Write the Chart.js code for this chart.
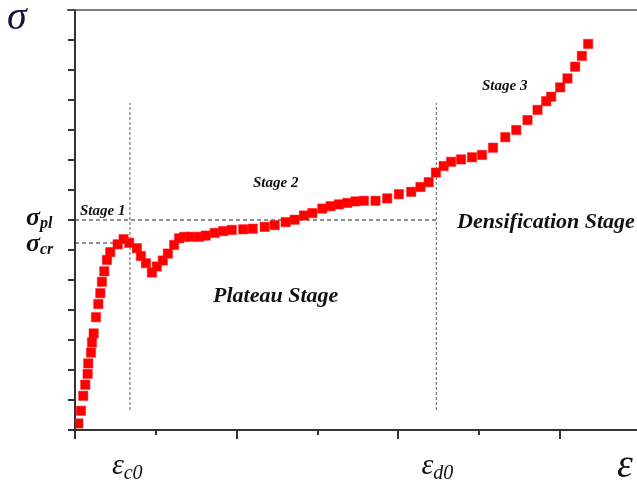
<!DOCTYPE html>
<html>
<head>
<meta charset="utf-8">
<script src="https://cdn.jsdelivr.net/npm/chart.js@4.4.0/dist/chart.umd.min.js"></script>
<style>
  body { margin: 0; background: #fff; }
  #wrap { width: 637px; height: 484px; }
</style>
</head>
<body>
<div id="wrap"><canvas id="stressChart" width="637" height="484"></canvas></div>
<script>
// strain / stress (arbitrary units)
const strain = [0.041, 0.074, 0.102, 0.127, 0.156, 0.164, 0.198, 0.210, 0.231, 0.259,
  0.288, 0.313, 0.333, 0.362, 0.395, 0.436, 0.527, 0.601, 0.670, 0.765,
  0.815, 0.877, 0.951, 1.012, 1.086, 1.148, 1.226, 1.288, 1.350, 1.432,
  1.535, 1.617, 1.728, 1.833, 1.938, 2.080, 2.198, 2.346, 2.469, 2.605,
  2.716, 2.831, 2.935, 3.058, 3.160, 3.263, 3.367, 3.469, 3.572, 3.716,
  3.861, 4.005, 4.158, 4.272, 4.374, 4.463, 4.559, 4.651, 4.774, 4.910,
  5.033, 5.169, 5.321, 5.457, 5.596, 5.720, 5.827, 5.889, 6.000, 6.090,
  6.185, 6.268, 6.346];
const stress = [0.22, 0.64, 1.14, 1.51, 1.87, 2.22, 2.58, 2.92, 3.22, 3.76,
  4.20, 4.56, 4.94, 5.29, 5.67, 5.93, 6.19, 6.36, 6.24, 6.06,
  5.80, 5.56, 5.25, 5.45, 5.65, 5.88, 6.17, 6.39, 6.44, 6.44,
  6.44, 6.48, 6.57, 6.63, 6.67, 6.69, 6.71, 6.77, 6.83, 6.93,
  7.01, 7.15, 7.23, 7.38, 7.46, 7.52, 7.57, 7.62, 7.64, 7.64,
  7.72, 7.86, 7.94, 8.10, 8.26, 8.58, 8.80, 8.94, 9.02, 9.09,
  9.17, 9.41, 9.76, 10.00, 10.33, 10.67, 10.96, 11.11, 11.42, 11.72,
  12.11, 12.47, 12.87];

// characteristic points
const epsC0 = 0.679, epsD0 = 4.469;
const sigPl = 7.0, sigCr = 6.233;
const guideTop = 10.9, guideBottom = 0.67;

const xMax = 6.95, yMax = 14;

const points = strain.map((x, i) => ({ x: x, y: stress[i] }));

function seg(x1, y1, x2, y2) { return [{ x: x1, y: y1 }, { x: x2, y: y2 }]; }

const labelsPlugin = {
  id: 'labels',
  afterDraw(chart) {
    const ctx = chart.ctx;
    const xs = chart.scales.x, ys = chart.scales.y;
    const a = chart.chartArea;
    ctx.save();
    ctx.strokeStyle = '#333';
    ctx.lineWidth = 2;
    // y ticks
    for (let v = 0; v <= yMax; v++) {
      const py = Math.round(ys.getPixelForValue(v));
      ctx.beginPath(); ctx.moveTo(a.left - 7, py); ctx.lineTo(a.left, py); ctx.stroke();
    }
    // x ticks, major every 2
    for (let v = 0; v <= Math.floor(xMax); v++) {
      const px = Math.round(xs.getPixelForValue(v));
      const len = v % 2 === 0 ? 9 : 5;
      ctx.beginPath(); ctx.moveTo(px, a.bottom); ctx.lineTo(px, a.bottom + len); ctx.stroke();
    }
    // top line
    ctx.strokeStyle = '#555';
    ctx.lineWidth = 1.5;
    ctx.beginPath(); ctx.moveTo(a.left - 8, a.top); ctx.lineTo(a.right, a.top); ctx.stroke();

    ctx.fillStyle = '#111';
    ctx.textBaseline = 'alphabetic';
    ctx.textAlign = 'left';
    function sub(main, s, x, y, f1, f2, dy) {
      ctx.font = f1; ctx.fillText(main, x, y);
      const w = ctx.measureText(main).width;
      ctx.font = f2; ctx.fillText(s, x + w, y + dy);
    }
    // sigma axis name
    ctx.fillStyle = '#14143a';
    ctx.font = 'italic 40px "Liberation Serif"';
    ctx.fillText('σ', 7, 29);
    ctx.fillStyle = '#111';
    // sigma_pl, sigma_cr
    sub('σ', 'pl', 26, ys.getPixelForValue(sigPl) + 5, 'bold italic 26px "Liberation Serif"', 'bold italic 16px "Liberation Serif"', 3);
    sub('σ', 'cr', 26, ys.getPixelForValue(sigCr) + 8, 'bold italic 26px "Liberation Serif"', 'bold italic 16px "Liberation Serif"', 3);
    // epsilons
    sub('ε', 'c0', xs.getPixelForValue(epsC0) - 18, 474, 'italic 30px "Liberation Serif"', 'italic 20px "Liberation Serif"', 5);
    sub('ε', 'd0', xs.getPixelForValue(epsD0) - 15, 474, 'italic 30px "Liberation Serif"', 'italic 20px "Liberation Serif"', 5);
    ctx.font = 'italic 40px "Liberation Serif"';
    ctx.fillText('ε', 617, 477);
    // stage labels
    ctx.font = 'bold italic 15px "Liberation Serif"';
    ctx.fillText('Stage 1', 80, 215);
    ctx.fillText('Stage 2', 253, 187);
    ctx.fillText('Stage 3', 482, 90);
    ctx.font = 'bold italic 22px "Liberation Serif"';
    ctx.fillText('Plateau Stage', 213, 302);
    ctx.fillText('Densification Stage', 457, 228);
    ctx.restore();
  }
};

const ctx = document.getElementById('stressChart').getContext('2d');
new Chart(ctx, {
  type: 'scatter',
  data: {
    datasets: [
      {
        label: 'stress',
        data: points,
        pointStyle: 'rect',
        pointRadius: 6.6,
        pointHoverRadius: 6.6,
        backgroundColor: '#ff0000',
        borderColor: '#ff1a1a',
        borderWidth: 0.5,
        order: 1
      },
      {
        type: 'line', label: 'eps_c0', data: seg(epsC0, guideBottom, epsC0, guideTop),
        borderColor: '#777', borderWidth: 1.2, borderDash: [3, 2], pointRadius: 0, order: 2
      },
      {
        type: 'line', label: 'eps_d0', data: seg(epsD0, guideBottom, epsD0, guideTop),
        borderColor: '#777', borderWidth: 1.2, borderDash: [3, 2], pointRadius: 0, order: 2
      },
      {
        type: 'line', label: 'sig_pl', data: seg(0, sigPl, epsD0, sigPl),
        borderColor: '#222', borderWidth: 1, borderDash: [4, 3], pointRadius: 0, order: 2
      },
      {
        type: 'line', label: 'sig_cr', data: seg(0, sigCr, epsC0, sigCr),
        borderColor: '#222', borderWidth: 1, borderDash: [4, 3], pointRadius: 0, order: 2
      }
    ]
  },
  options: {
    responsive: false,
    animation: false,
    events: [],
    layout: { autoPadding: false, padding: { left: 67, top: 10, right: 0, bottom: 46 } },
    plugins: { legend: { display: false }, tooltip: { enabled: false } },
    scales: {
      x: {
        type: 'linear', min: 0, max: xMax,
        grid: { display: false },
        ticks: { display: false },
        border: { display: true, color: '#333', width: 2 }
      },
      y: {
        type: 'linear', min: 0, max: yMax,
        grid: { display: false },
        ticks: { display: false },
        border: { display: true, color: '#333', width: 2 }
      }
    }
  },
  plugins: [labelsPlugin]
});
</script>
</body>
</html>
